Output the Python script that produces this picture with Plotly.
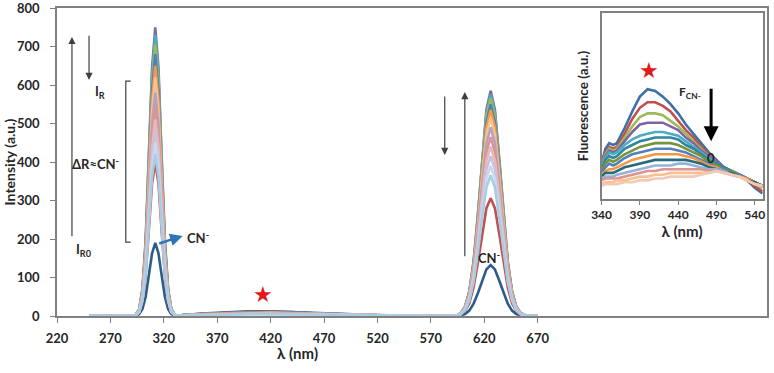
import plotly.graph_objects as go

# ---------------- main spectra (x in nm, intensity a.u.) ----------------
main_x = [250, 293, 297, 300, 303, 306, 309, 312, 315, 318, 321, 324, 327, 331,
          340, 360, 380, 400, 420, 440, 460, 480, 500, 530, 570, 594,
          598, 602, 606, 610, 614, 618, 622, 626, 630, 634, 638, 642, 646, 650, 654, 660, 670]

main_y01 = [0,0, 5,18,50,105,163,190,163,105,50,18,5, 0, 3,7,10,12,12,10,8,5,3,1,0, 0, 2,5,14,32,59,92,121,132,121,92,59,32,14,5,2, 0,0]
main_y02 = [0,0, 10,37,105,220,344,400,344,220,105,37,10, 0, 3,6,9,11,11,10,7,5,3,1,0, 0, 4,13,33,74,138,214,280,306,280,214,138,74,33,13,4, 0,0]
main_y03 = [0,0, 10,39,110,231,361,420,361,231,110,39,10, 0, 1,3,4,5,5,5,4,3,2,1,0, 0, 5,15,40,88,164,256,334,365,334,256,164,88,40,15,5, 0,0]
main_y04 = [0,0, 11,42,118,248,387,450,387,248,118,42,11, 0, 1,3,4,5,5,5,4,3,2,1,0, 0, 5,16,43,94,176,273,357,390,357,273,176,94,43,16,5, 0,0]
main_y05 = [0,0, 12,45,126,264,413,480,413,264,126,45,12, 0, 2,3,5,6,6,5,4,3,2,1,0, 0, 5,17,45,100,187,291,380,415,380,291,187,100,45,17,5, 0,0]
main_y06 = [0,0, 12,47,134,281,439,510,439,281,134,47,12, 0, 2,3,5,6,6,5,4,3,2,1,0, 0, 6,18,48,107,198,308,403,440,403,308,198,107,48,18,6, 0,0]
main_y07 = [0,0, 13,51,143,300,469,545,469,300,143,51,13, 0, 2,4,5,6,7,6,5,3,2,1,0, 0, 6,19,51,113,209,326,425,465,425,326,209,113,51,19,6, 0,0]
main_y08 = [0,0, 14,54,152,319,499,580,499,319,152,54,14, 0, 2,4,6,7,7,6,5,4,2,1,0, 0, 6,20,53,119,221,343,448,490,448,343,221,119,53,20,6, 0,0]
main_y09 = [0,0, 15,58,162,341,533,620,533,341,162,58,15, 0, 2,4,6,7,8,7,5,4,2,1,0, 0, 7,21,56,125,232,361,471,515,471,361,232,125,56,21,7, 0,0]
main_y10 = [0,0, 16,60,170,358,559,650,559,358,170,60,16, 0, 2,5,7,8,8,7,6,4,2,1,0, 0, 7,22,58,130,241,375,490,535,490,375,241,130,58,22,7, 0,0]
main_y11 = [0,0, 16,63,178,374,585,680,585,374,178,63,16, 0, 2,5,7,8,9,8,6,4,2,1,0, 0, 7,23,60,133,248,385,503,550,503,385,248,133,60,23,7, 0,0]
main_y12 = [0,0, 17,66,185,388,606,705,606,388,185,66,17, 0, 3,5,7,9,9,8,6,4,3,1,0, 0, 7,23,62,137,254,396,517,565,517,396,254,137,62,23,7, 0,0]
main_y13 = [0,0, 18,68,191,402,628,730,628,402,191,68,18, 0, 3,6,8,9,10,9,7,5,3,1,0, 0, 7,24,63,139,259,403,526,575,526,403,259,139,63,24,7, 0,0]
main_y14 = [0,0, 18,70,197,413,645,750,645,413,197,70,18, 0, 3,6,8,10,10,9,7,5,3,1,0, 0, 8,24,64,142,263,410,535,585,535,410,263,142,64,24,8, 0,0]

main_colors = ["#2B5C8A", "#C0504D", "#A9CCE3", "#C6D9F1", "#CCC0DA", "#E6B9B8", "#D99694",
               "#B3A2C7", "#FAC090", "#F79646", "#4F81BD", "#9BBB59", "#4BACC6", "#7F6A9A"]

main_xticks = [220, 270, 320, 370, 420, 470, 520, 570, 620, 670]
main_yticks = [0, 100, 200, 300, 400, 500, 600, 700, 800]

# ---------------- inset spectra ----------------
inset_x = [340, 345, 350, 355, 360, 370, 380, 390, 400, 410, 420, 430, 440, 450, 460, 470,
           480, 490, 500, 510, 520, 530, 540, 550]
inset_y01 = [19,27,30,29,30,38,47,55,59,58,55,51,46,40,35,30,25,21,17,15,13,10,6,3]
inset_y02 = [18,25,28,27,28,35,43,49,52,52,50,47,42,37,33,28,24,20,17,15,13,10,7,4]
inset_y03 = [18,24,27,26,27,33,39,44,46,46,45,42,39,35,31,27,23,20,17,15,13,11,8,6]
inset_y04 = [17,23,26,25,26,31,36,40,41,41,41,39,37,33,30,26,23,20,17,15,13,11,9,7]
inset_y05 = [17,22,25,24,25,29,32,34,35,36,36,35,34,31,28,25,22,19,17,15,13,11,9,7]
inset_y06 = [16,21,23,22,23,27,29,31,32,33,33,33,32,29,27,24,21,19,17,15,13,11,9,7]
inset_y07 = [15,19,21,20,21,24,26,28,29,30,30,30,29,27,25,23,20,18,16,15,13,11,9,7]
inset_y08 = [14,17,19,18,19,22,24,25,26,27,27,27,26,25,23,21,19,17,16,14,13,11,9,7]
inset_y09 = [13,15,16,16,17,19,21,22,23,24,24,24,24,23,22,20,18,17,15,14,12,11,9,7]
inset_y10 = [12,14,14,14,15,17,18,19,20,21,21,21,21,21,20,19,17,16,15,14,12,10,9,7]
inset_y11 = [11,12,12,12,13,14,15,16,17,18,18,18,19,19,18,17,16,16,15,13,12,10,8,7]
inset_y12 = [10,11,11,11,11,12,13,14,15,15,16,16,16,16,16,16,15,15,14,13,12,10,8,7]
inset_y13 = [8,9,9,9,10,10,11,12,12,13,13,14,14,14,14,14,14,15,14,13,12,10,8,7]
inset_y14 = [7,8,8,8,8,9,9,10,10,11,11,12,12,12,12,13,14,15,14,13,12,10,8,7]

inset_colors = ["#3E6FA8", "#C0504D", "#9BBB59", "#8064A2", "#4BACC6", "#31859C", "#77933C",
                "#4F81BD", "#F79646", "#276A7C", "#95B3D7", "#D99694", "#FAC090", "#F2C9B5"]
inset_xticks = [340, 390, 440, 490, 540]

main_series = [main_y01, main_y02, main_y03, main_y04, main_y05, main_y06, main_y07,
               main_y08, main_y09, main_y10, main_y11, main_y12, main_y13, main_y14]
inset_series = [inset_y01, inset_y02, inset_y03, inset_y04, inset_y05, inset_y06, inset_y07,
                inset_y08, inset_y09, inset_y10, inset_y11, inset_y12, inset_y13, inset_y14]

fig = go.Figure()

# draw order: CN- and red first, then the tallest, down to the lightest
order = [0, 1] + list(range(13, 1, -1))
for i in order:
    fig.add_trace(go.Scatter(x=main_x, y=main_series[i], mode="lines",
                             line=dict(color=main_colors[i], width=2.6),
                             hoverinfo="skip", xaxis="x", yaxis="y"))

for i in range(len(inset_series)):
    fig.add_trace(go.Scatter(x=inset_x, y=inset_series[i], mode="lines",
                             line=dict(color=inset_colors[i], width=2.6),
                             hoverinfo="skip", xaxis="x2", yaxis="y2"))

TXT = "#262626"
FRAME = "#808080"
font_tick = dict(family="Lato", size=13, color=TXT, weight="bold")

fig.update_layout(
    width=774, height=373,
    margin=dict(l=57, r=5, t=8, b=57),
    paper_bgcolor="white", plot_bgcolor="white",
    showlegend=False,
    font=dict(family="Lato", color=TXT),
    xaxis=dict(range=[220, 884.7], tickvals=main_xticks, showline=True, linecolor=FRAME,
               linewidth=1.5, mirror=True, ticks="outside", ticklen=5, tickcolor=FRAME,
               showgrid=False, zeroline=False, tickfont=font_tick, ticklabelstandoff=5,
               domain=[0, 1]),
    yaxis=dict(range=[0, 800], tickvals=main_yticks, showline=True, linecolor=FRAME, linewidth=1.5,
               mirror=True, ticks="outside", ticklen=5, tickcolor=FRAME, showgrid=False,
               zeroline=False, tickfont=font_tick, ticklabelstandoff=8,
               ticklabeloverflow="allow", automargin=False, domain=[0, 1]),
    xaxis2=dict(domain=[0.767, 0.994], anchor="y2", range=[340, 550.4], tickvals=inset_xticks,
                showline=True, linecolor=FRAME, linewidth=1.5, mirror=True, ticks="outside",
                ticklen=4, tickcolor=FRAME, showgrid=False, zeroline=False,
                tickfont=dict(family="Lato", size=12, color=TXT, weight="bold"),
                ticklabeloverflow="allow",
                title=dict(text="λ (nm)", standoff=4,
                           font=dict(family="Lato", size=15, color=TXT, weight="bold"))),
    yaxis2=dict(domain=[0.380, 0.984], anchor="x2", range=[0, 100], showline=True,
                linecolor=FRAME, linewidth=1.5, mirror=True, ticks="", showticklabels=False,
                showgrid=False, zeroline=False,
                title=dict(text="Fluorescence (a.u.)", standoff=8,
                           font=dict(family="Lato", size=13.5, color=TXT, weight="bold"))),
)

ann_font = dict(family="Lato", size=13, color=TXT, weight="bold")
ARW = "#404040"
annotations = [
    # axis titles
    dict(text="λ (nm)", xref="paper", yref="paper", x=0.3385, y=-0.12, showarrow=False,
         font=dict(family="Lato", size=15, color=TXT, weight="bold"), yanchor="middle"),
    dict(text="Intensity (a.u.)", xref="paper", yref="paper", x=-0.067, y=0.5, textangle=-90,
         showarrow=False, font=dict(family="Lato", size=14, color=TXT, weight="bold"),
         xanchor="center", yanchor="middle"),
    # left arrows
    dict(x=234, y=725, ax=234, ay=203, xref="x", yref="y", axref="x", ayref="y", text="",
         showarrow=True, arrowhead=2, arrowsize=1.2, arrowwidth=1.2, arrowcolor=ARW),
    dict(x=250, y=613, ax=250, ay=732, xref="x", yref="y", axref="x", ayref="y", text="",
         showarrow=True, arrowhead=2, arrowsize=1.2, arrowwidth=1.2, arrowcolor=ARW),
    dict(x=260, y=582, xref="x", yref="y", text="I<sub>R</sub>", showarrow=False, font=ann_font),
    dict(x=256, y=397, xref="x", yref="y", text="ΔR≈CN<sup>-</sup>", showarrow=False, font=ann_font),
    dict(x=245, y=171, xref="x", yref="y", text="I<sub>R0</sub>", showarrow=False, font=ann_font),
    # CN- label with blue arrow
    dict(x=337.6, y=208, ax=314.3, ay=187, xref="x", yref="y", axref="x", ayref="y", text="",
         showarrow=True, arrowhead=2, arrowsize=1, arrowwidth=2.5, arrowcolor="#2E75B6"),
    dict(x=352, y=203, xref="x", yref="y", text="CN<sup>-</sup>", showarrow=False, font=ann_font),
    # right peak arrows
    dict(x=601.8, y=582, ax=601.8, ay=151, xref="x", yref="y", axref="x", ayref="y", text="",
         showarrow=True, arrowhead=2, arrowsize=1.2, arrowwidth=1.2, arrowcolor=ARW),
    dict(x=583, y=418, ax=583, ay=574, xref="x", yref="y", axref="x", ayref="y", text="",
         showarrow=True, arrowhead=2, arrowsize=1.2, arrowwidth=1.2, arrowcolor=ARW),
    dict(x=624, y=153, xref="x", yref="y", text="CN<sup>-</sup>", showarrow=False, font=ann_font),
    # red stars
    dict(x=413, y=55, xref="x", yref="y", text="★", showarrow=False,
         font=dict(family="DejaVu Sans", size=22, color="#E01B1B")),
    dict(x=402, y=69, xref="x2", yref="y2", text="★", showarrow=False,
         font=dict(family="DejaVu Sans", size=22, color="#E01B1B")),
    # inset labels
    dict(x=456, y=57, xref="x2", yref="y2", text="F<sub>CN-</sub>", showarrow=False,
         font=dict(family="Lato", size=12, color=TXT, weight="bold")),
    dict(x=483, y=31, ax=483, ay=60, xref="x2", yref="y2", axref="x2", ayref="y2", text="",
         showarrow=True, arrowhead=2, arrowsize=1, arrowwidth=3, arrowcolor="#000000"),
    dict(x=483, y=22, xref="x2", yref="y2", text="0", showarrow=False,
         font=dict(family="Lato", size=13, color=TXT, weight="bold")),
]
fig.update_layout(annotations=annotations)

# bracket next to ΔR
fig.add_shape(type="path", xref="x", yref="y",
              path="M 289,610 L 284.4,610 L 284.4,192 L 289,192",
              line=dict(color=ARW, width=1.2))

fig.write_html("out.html", config={"displayModeBar": False},
               post_script="document.body.style.margin='0';document.body.style.overflow='hidden';")
